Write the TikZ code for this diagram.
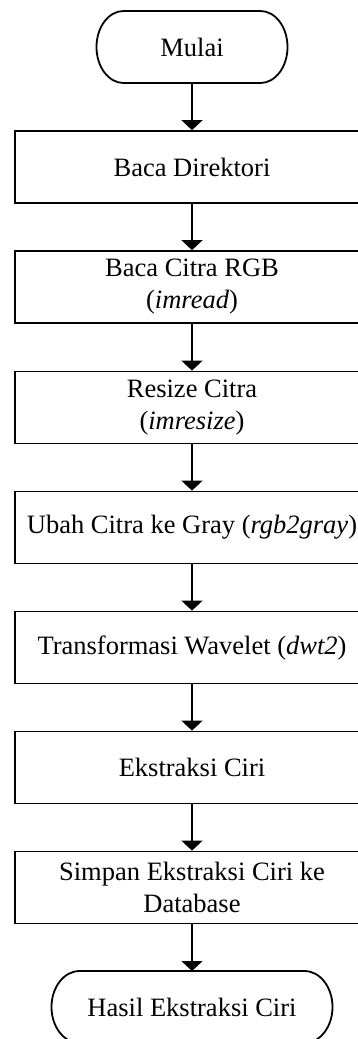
\documentclass[tikz,border=0pt]{standalone}
\usepackage{fontspec}
\setmainfont{Liberation Serif}
\usetikzlibrary{arrows.meta}
\begin{document}
\begin{tikzpicture}[x=1pt,y=-1pt,
  txt/.style={font=\fontsize{26.5}{32}\selectfont, align=center},
  proc/.style={txt, draw=black, line width=1.8pt, minimum width=354pt, minimum height=72pt, inner sep=0pt},
  term/.style={txt, minimum width=#1, minimum height=72pt, inner sep=0pt, outer sep=0pt},
  termline/.style={line width=1.8pt},
  flow/.style={line width=1.8pt, -{Triangle[width=21pt,length=10pt]}}]
\useasboundingbox (0,0) rectangle (358,1039);
\clip (0,0) rectangle (358,1039);
\node[term=191pt] (start) at (192,47) {Mulai};
\draw[termline] ([xshift=27pt]start.north west) -- ([xshift=-27pt]start.north east)
  arc[start angle=90,end angle=-90,x radius=27pt,y radius=36pt]
  -- ([xshift=27pt]start.south west)
  arc[start angle=270,end angle=90,x radius=27pt,y radius=36pt] -- cycle;
\node[proc] (b1) at (192,167) {Baca Direktori};
\node[proc] (b2) at (192,287) {Baca Citra RGB\\(\textit{imread})};
\node[proc] (b3) at (192,407.5) {Resize Citra\\(\textit{imresize})};
\node[proc] (b4) at (192,527.5) {Ubah Citra ke Gray (\textit{rgb2gray})};
\node[proc] (b5) at (192,647.5) {Transformasi Wavelet (\textit{dwt2})};
\node[proc] (b6) at (192,767.5) {Ekstraksi Ciri};
\node[proc] (b7) at (192,887.5) {Simpan Ekstraksi Ciri ke\\Database};
\node[term=281pt] (end) at (192,1007) {Hasil Ekstraksi Ciri};
\draw[termline] ([xshift=28pt]end.north west) -- ([xshift=-28pt]end.north east)
  arc[start angle=90,end angle=-90,x radius=28pt,y radius=36pt]
  -- ([xshift=28pt]end.south west)
  arc[start angle=270,end angle=90,x radius=28pt,y radius=36pt] -- cycle;
\draw[flow] (start) -- (b1);
\draw[flow] (b1) -- (b2);
\draw[flow] (b2) -- (b3);
\draw[flow] (b3) -- (b4);
\draw[flow] (b4) -- (b5);
\draw[flow] (b5) -- (b6);
\draw[flow] (b6) -- (b7);
\draw[flow] (b7) -- (end);
\end{tikzpicture}
\end{document}
